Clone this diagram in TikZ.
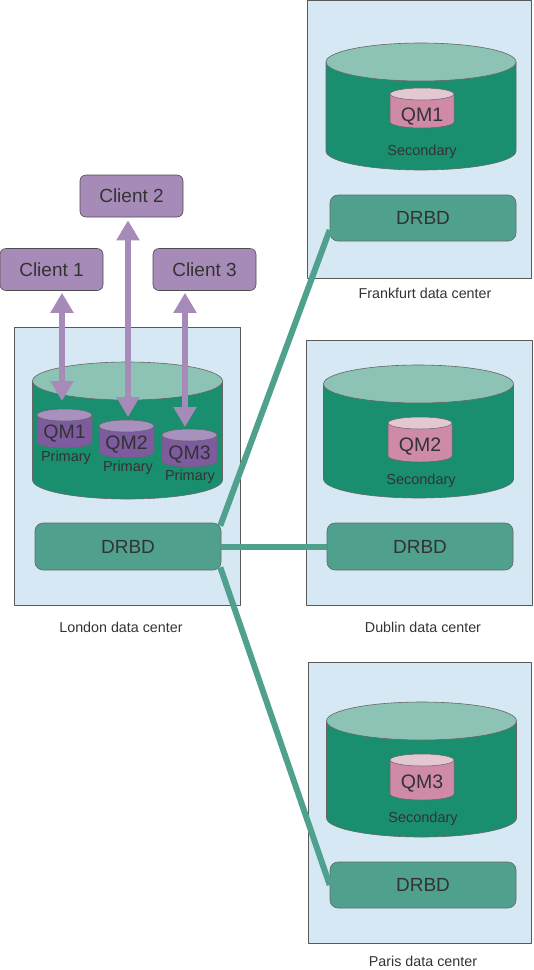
\documentclass[tikz,border=0pt]{standalone}
\usepackage{fontspec}
\setmainfont{Liberation Sans}
\usetikzlibrary{arrows.meta}
\usetikzlibrary{positioning}
\definecolor{sitefill}{HTML}{D5E8F4}
\definecolor{dbbody}{HTML}{1A8F70}
\definecolor{dbtop}{HTML}{8DC3B5}
\definecolor{drbdfill}{HTML}{4FA18E}
\definecolor{clientfill}{HTML}{A68BB8}
\definecolor{primbody}{HTML}{7D5B9E}
\definecolor{primtop}{HTML}{A891BF}
\definecolor{secbody}{HTML}{CE8AA6}
\definecolor{sectop}{HTML}{E3C8D2}
\definecolor{txt}{HTML}{333333}

\begin{document}
\begin{tikzpicture}[line cap=butt,line join=round,x=1pt,y=-1pt,>={Triangle[width=22pt,length=20pt]},
  site/.style={draw=black!65,fill=sitefill,line width=0.8pt,inner sep=0},
  sitelabel/.style={text=txt,font=\fontsize{14.3}{16}\selectfont},
  client/.style={draw=black!70,fill=clientfill,rounded corners=6pt,line width=0.6pt,minimum width=103pt,minimum height=42pt,text=txt,font=\fontsize{19}{22}\selectfont},
  drbd/.style={draw=black!60,fill=drbdfill,rounded corners=8pt,line width=0.6pt,minimum width=186pt,minimum height=47pt,text=txt,font=\fontsize{19}{22}\selectfont},
  qmtext/.style={text=txt,inner sep=0,font=\fontsize{19.5}{22}\selectfont},
  roletext/.style={text=txt,inner sep=0,font=\fontsize{14.5}{16}\selectfont},
  link/.style={draw=drbdfill,line width=6pt},
  access/.style={draw=clientfill,line width=5.5pt,<->}]
\useasboundingbox (0,0) rectangle (534,970);

% data centers
\node[site,minimum width=226pt,minimum height=278pt] (lon) at (127,466) {};
\node[site,minimum width=224pt,minimum height=278pt] (fra) at (419,139) {};
\node[site,minimum width=226pt,minimum height=265pt] (dub) at (419,472.5) {};
\node[site,minimum width=223pt,minimum height=281pt] (par) at (419.5,802.5) {};
\node[sitelabel] (lonlabel) at (121,627) {London data center};
\node[sitelabel] (fralabel) at (425,293) {Frankfurt data center};
\node[sitelabel] (dublabel) at (423,627) {Dublin data center};
\node[sitelabel] (parlabel) at (423,961) {Paris data center};

% big disks
\foreach \cx/\ty/\by in {127.5/381/480, 421/62/151, 418.5/384/479, 421.5/721/818}{
  \filldraw[fill=dbbody,draw=black!60,line width=0.6pt] (\cx-95,\ty) -- (\cx-95,\by)
    arc[start angle=180,end angle=0,x radius=95,y radius=19] -- (\cx+95,\ty) -- cycle;
  \filldraw[fill=dbtop,draw=black!60,line width=0.6pt] (\cx,\ty) ellipse[x radius=95,y radius=19];
}

% queue managers, primary
\foreach \cx/\ty/\by in {64.5/415/442, 126.5/426/452, 189.5/435/461}{
  \filldraw[fill=primbody,draw=black!60,line width=0.5pt] (\cx-27.5,\ty) -- (\cx-27.5,\by)
    arc[start angle=180,end angle=0,x radius=27.5,y radius=6] -- (\cx+27.5,\ty) -- cycle;
  \filldraw[fill=primtop,draw=black!60,line width=0.5pt] (\cx,\ty) ellipse[x radius=27.5,y radius=6];
}
% queue managers, secondary
\foreach \cx/\ty/\by in {422/94/122, 420/423/456, 422/760/794}{
  \filldraw[fill=secbody,draw=black!60,line width=0.5pt] (\cx-32,\ty) -- (\cx-32,\by)
    arc[start angle=180,end angle=0,x radius=32,y radius=6] -- (\cx+32,\ty) -- cycle;
  \filldraw[fill=sectop,draw=black!60,line width=0.5pt] (\cx,\ty) ellipse[x radius=32,y radius=6];
}

\node[qmtext] (qm1) at (64.5,434) {QM1};
\node[qmtext] (qm2) at (126.5,445) {QM2};
\node[qmtext] (qm3) at (189.5,455) {QM3};
\node[roletext] (prim1) at (66,458) {Primary};
\node[roletext] (prim2) at (128,468) {Primary};
\node[roletext] (prim3) at (190,477) {Primary};
\node[qmtext] (qm1b) at (422,117) {QM1};
\node[qmtext] (qm2b) at (420,447) {QM2};
\node[qmtext] (qm3b) at (422,784) {QM3};
\node[roletext] (sec1) at (422,152) {Secondary};
\node[roletext] (sec2) at (421,481) {Secondary};
\node[roletext] (sec3) at (423,819) {Secondary};

% replication
\node[drbd] (londrbd) at (128,546.5) {DRBD};
\node[drbd,minimum height=46pt] (fradrbd) at (423,218) {DRBD};
\node[drbd] (dubdrbd) at (420,546.5) {DRBD};
\node[drbd,minimum height=46pt] (pardrbd) at (423,885) {DRBD};
\draw[link] ([xshift=-1pt,yshift=-3pt]londrbd.north east) -- ([yshift=-12pt]fradrbd.west);
\draw[link] (londrbd.east) -- (dubdrbd.west);
\draw[link] ([xshift=-1pt,yshift=3pt]londrbd.south east) -- (pardrbd.west);

% clients
\node[client] (cl1) at (51.5,269.5) {Client 1};
\node[client] (cl2) at (131.5,196) {Client 2};
\node[client] (cl3) at (204.5,269.5) {Client 3};
\coordinate (a1) at (62,401);
\coordinate (a2) at (128,417);
\coordinate (a3) at (185,427);
\draw[access] ([yshift=-2pt]cl1.south -| a1) -- (a1);
\draw[access] ([yshift=-3pt]cl2.south -| a2) -- (a2);
\draw[access] ([yshift=-2pt]cl3.south -| a3) -- (a3);
\end{tikzpicture}
\end{document}
